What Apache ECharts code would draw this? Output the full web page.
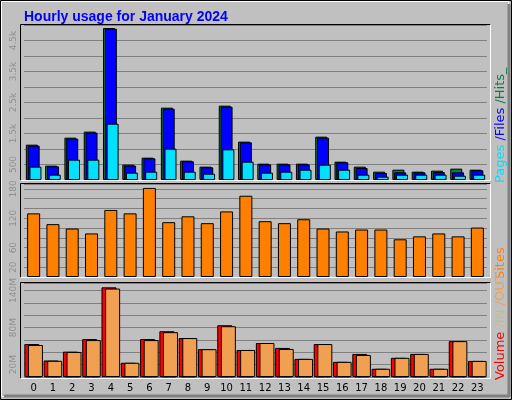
<!DOCTYPE html>
<html><head><meta charset="utf-8">
<script src="https://cdn.jsdelivr.net/npm/echarts@6/dist/echarts.min.js"></script>
<style>html,body{margin:0;padding:0;background:#c0c0c0}#chart{width:512px;height:400px}</style>
</head><body><div id="chart"></div>
<script>
var hours = ['0','1','2','3','4','5','6','7','8','9','10','11','12','13','14','15','16','17','18','19','20','21','22','23'];
var hits = [1140,463,1366,1560,4903,495,720,2333,624,430,2398,1237,527,527,527,1398,591,430,269,333,269,301,366,333];
var files = [1107,441,1333,1527,4881,462,699,2300,602,409,2365,1215,505,505,505,1365,570,387,226,247,247,258,247,312];
var pages = [430,172,656,656,1817,237,269,1011,269,204,989,591,237,269,333,494,333,172,107,172,172,172,140,172];
var sites = [130,108,99,89,137,130,182,112,124,110,134,166,114,110,118,99,93,97,97,77,83,89,83,101];
var volume = [53.3,26.7,41,61.3,145,23,61.3,74,63,45,83.7,43.7,55,47,29.3,53.3,24.5,37.3,13.3,31,37.3,13.3,58,26];
var volIn = [0.8,0.8,0.8,0.8,1.5,0.8,0.8,0.8,0.8,0.8,0.8,0.8,0.8,0.8,0.8,0.8,0.8,0.8,0.8,0.8,0.8,0.8,0.8,0.8];
var volOut = [51.7,26.2,40.5,59.7,143,23,59.7,72.5,63,45,82.1,43.7,55,45.3,29.3,53.3,24.5,35.7,13.3,31,37.3,13.3,58,26];

var chart = echarts.init(document.getElementById('chart'));
var gl = 'rgb(128,128,128)';
var lblStyle = {color: '#909090', fontSize: 9, fontFamily: 'DejaVu Sans', rotate: 90, margin: 6};
function grid(top, bottom) { return {left: 24, right: 25, top: top, height: bottom - top}; }
function xax(i, show) {
    return {type: 'category', gridIndex: i, data: hours, axisLine: {show: false}, axisTick: {show: false},
        axisLabel: {show: show, color: '#000', fontSize: 10, fontFamily: 'DejaVu Sans', margin: 6, interval: 0}};
}
function yax(i, max, step, fmt) {
    return {type: 'value', gridIndex: i, min: 0, max: max, interval: step,
        axisLine: {show: false}, axisTick: {show: false},
        splitLine: {lineStyle: {color: gl, width: 1}},
        axisLabel: Object.assign({formatter: fmt}, lblStyle)};
}
function bar(name, x, data, color, w, gap) {
    return {name: name, type: 'bar', xAxisIndex: x, yAxisIndex: x, data: data, barWidth: w, barGap: gap,
        itemStyle: {color: color, borderColor: '#000', borderWidth: 1}, animation: false};
}
function frame(x1, y1, x2, y2) {
    return [
        {type: 'line', shape: {x1: x1, y1: y1, x2: x2, y2: y1}, style: {stroke: '#000'}, z: 10},
        {type: 'line', shape: {x1: x1, y1: y1, x2: x1, y2: y2}, style: {stroke: '#000'}, z: 10},
        {type: 'line', shape: {x1: x1, y1: y2, x2: x2, y2: y2}, style: {stroke: '#fff'}, z: 10},
        {type: 'line', shape: {x1: x2, y1: y1, x2: x2, y2: y2}, style: {stroke: '#fff'}, z: 10}
    ];
}
var f13 = '13px "DejaVu Sans"';
function vtext(x, y, parts) {
    return {type: 'text', x: x, y: y, rotation: Math.PI / 2, z: 10,
        style: {text: parts.map(function (p) { return '{' + p[1] + '|' + p[0] + '}'; }).join(''),
            font: f13, rich: {
                a: {fill: '#00e0ff', font: f13}, b: {fill: '#0000ff', font: f13},
                c: {fill: '#008040', font: f13}, d: {fill: '#ff8000', font: f13},
                e: {fill: '#ff0000', font: f13}, f: {fill: '#c0c080', font: f13},
                g: {fill: '#f0a050', font: f13}}}};
}

var option = {
    backgroundColor: '#c0c0c0',
    animation: false,
    title: {text: 'Hourly usage for January 2024', left: 19, top: 5,
        textStyle: {color: '#0000ff', fontSize: 14, fontWeight: 'bold', fontFamily: 'Liberation Sans'}},
    grid: [grid(25, 180), grid(184, 277), grid(283, 377)],
    xAxis: [xax(0, false), xax(1, false), xax(2, true)],
    yAxis: [
        yax(0, 5000, 500, function (v) { return v === 500 ? '500' : ((v / 500) % 2 === 1 ? (v / 1000) + 'k' : ''); }),
        yax(1, 190, 20, function (v) { return [20, 60, 120, 180].indexOf(v) >= 0 ? v : ''; }),
        yax(2, 152, 20, function (v) { return [20, 80, 140].indexOf(v) >= 0 ? v + 'M' : ''; })
    ],
    series: [
        bar('Hits', 0, hits, '#008040', 12, '-85%'),
        bar('Files', 0, files, '#0000ff', 12, '-85%'),
        bar('Pages', 0, pages, '#00e0ff', 12, '-85%'),
        bar('Sites', 1, sites, '#ff8000', 13, '-85%'),
        bar('Volume', 2, volume, '#ff0000', 15, '-88%'),
        bar('In', 2, volIn, '#c0c080', 15, '-88%'),
        bar('Out', 2, volOut, '#f0a050', 15, '-88%')
    ],
    graphic: [
        {type: 'rect', shape: {x: 0.5, y: 0.5, width: 511, height: 399}, style: {fill: 'none', stroke: '#000'}, z: 1},
        {type: 'rect', shape: {x: 1.5, y: 1.5, width: 507, height: 395}, style: {fill: 'none', stroke: '#fff'}, z: 1},
        {type: 'line', shape: {x1: 4, y1: 396, x2: 509, y2: 396}, style: {stroke: '#808080', lineWidth: 3}, z: 1},
        {type: 'line', shape: {x1: 509, y1: 4, x2: 509, y2: 397}, style: {stroke: '#808080', lineWidth: 3}, z: 1},
        vtext(494, 183, [['Pages', 'a'], [' /', 'b'], ['Files', 'b'], [' /', 'c'], ['Hits_', 'c']]),
        vtext(494, 279, [['Sites', 'd']]),
        vtext(494, 380, [['Volume', 'e'], [' /IN', 'f'], [' /OUT', 'g']])
    ].concat(frame(20.5, 24.5, 490.5, 180.5), frame(20.5, 183.5, 490.5, 277.5), frame(20.5, 282.5, 490.5, 378.5))
};
chart.setOption(option);
</script></body></html>
